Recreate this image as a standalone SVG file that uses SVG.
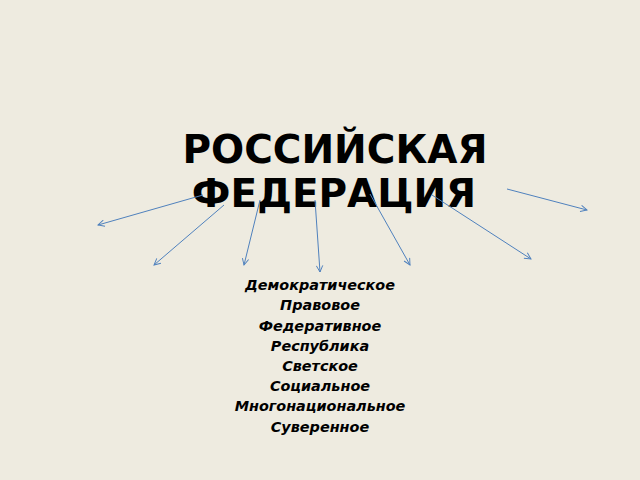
<svg xmlns="http://www.w3.org/2000/svg" width="640" height="480" viewBox="0 0 640 480">
<style>
.title{font-family:"DejaVu Sans",Verdana,sans-serif;font-weight:bold;font-size:39px;fill:#000;text-anchor:middle}
.item{font-family:"DejaVu Sans",Verdana,sans-serif;font-weight:bold;font-style:italic;font-size:14.4px;fill:#000;text-anchor:middle}
.conn line{stroke:#4f81bd;stroke-width:1;fill:none;marker-end:url(#ah)}
</style>
<defs>
<marker id="ah" viewBox="0 0 10 10" refX="9" refY="5" markerWidth="8" markerHeight="8" markerUnits="userSpaceOnUse" orient="auto">
<path d="M1,1 L9,5 L1,9" fill="none" stroke="#4f81bd" stroke-width="1.2"/>
</marker>
</defs>
<rect width="640" height="480" fill="#eeebe0"/>
<g id="title">
<text class="title" x="335" y="163">РОССИЙСКАЯ</text>
<text class="title" x="334" y="207">ФЕДЕРАЦИЯ</text>
</g>
<g id="connectors" class="conn">
<line x1="203" y1="195" x2="98" y2="225"/>
<line x1="224" y1="205" x2="154" y2="265"/>
<line x1="260" y1="200" x2="244" y2="265"/>
<line x1="315" y1="200" x2="320" y2="272"/>
<line x1="370" y1="194" x2="410" y2="265"/>
<line x1="432" y1="195" x2="531" y2="259"/>
<line x1="507" y1="189" x2="587" y2="210"/>
</g>
<g id="list">
<text class="item" x="320" y="290">Демократическое</text>
<text class="item" x="320" y="310">Правовое</text>
<text class="item" x="320" y="331">Федеративное</text>
<text class="item" x="320" y="351">Республика</text>
<text class="item" x="320" y="371">Светское</text>
<text class="item" x="320" y="391">Социальное</text>
<text class="item" x="320" y="411">Многонациональное</text>
<text class="item" x="320" y="432">Суверенное</text>
</g>
</svg>
